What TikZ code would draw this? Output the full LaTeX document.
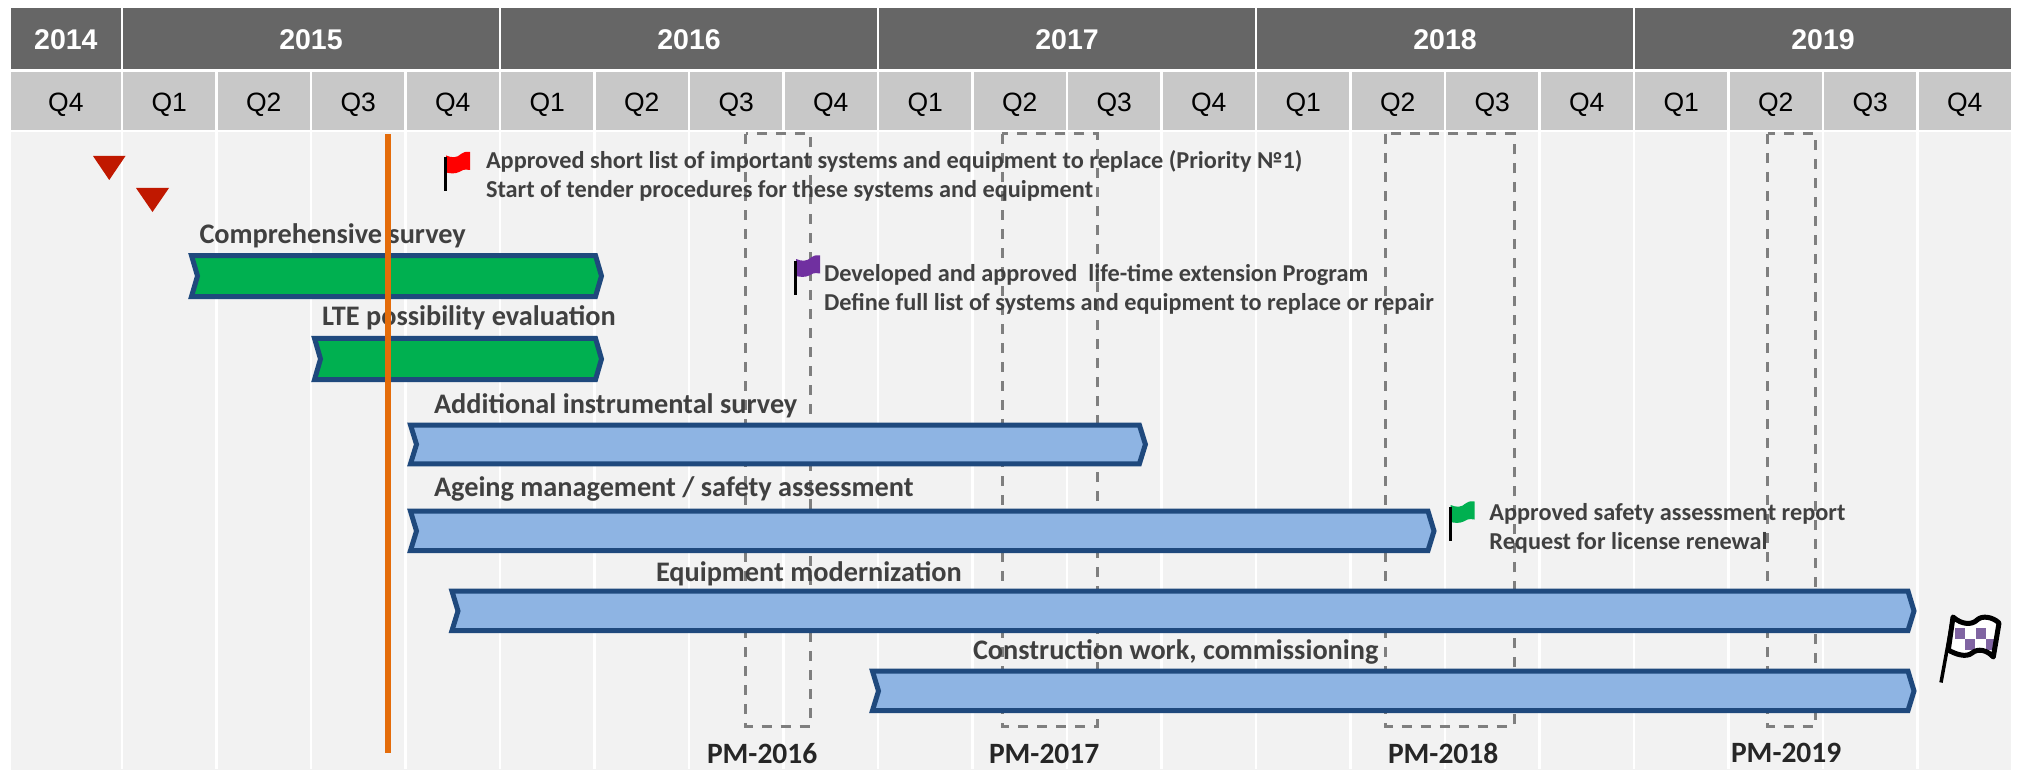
\documentclass[tikz,border=0pt]{standalone}
\usepackage{fontspec}
\setmainfont{Liberation Sans}
\newfontfamily\calfont{Carlito}
\definecolor{yeargray}{HTML}{666666}
\definecolor{quartergray}{HTML}{C8C8C8}
\definecolor{bodygray}{HTML}{F2F2F2}
\definecolor{dashgray}{HTML}{7F7F7F}
\definecolor{bartext}{HTML}{404040}
\definecolor{barline}{HTML}{1F497D}
\definecolor{barblue}{HTML}{8EB4E3}
\definecolor{bargreen}{HTML}{00B050}
\definecolor{nowline}{HTML}{E46C0A}
\definecolor{warnred}{HTML}{C01800}
\definecolor{flagpurple}{HTML}{7030A0}
\definecolor{checkpurple}{HTML}{8064A2}
\newcommand{\mileflag}[3]{% x, y of the pole top, flag colour
  \fill[#3] (#1+2,#2-1.5) .. controls (#1+8,#2+1) and (#1+13,#2+1) .. (#1+17,#2-3)
    .. controls (#1+19,#2-5) and (#1+22,#2-5.5) .. (#1+26,#2-5) -- (#1+26,#2+13)
    .. controls (#1+20,#2+12) and (#1+18,#2+13) .. (#1+15,#2+15)
    .. controls (#1+11,#2+17) and (#1+6,#2+16.5) .. (#1+2,#2+15.5) -- cycle;
  \fill[black] (#1,#2) rectangle (#1+3.4,#2+34.5);
}

\begin{document}
\begin{tikzpicture}[x = 1pt, y = -1pt, % one unit is one pixel, y runs down
                node distance = 94.5pt, % width of a quarter
                outer sep = 0pt
            ]

            \tikzstyle{yearbox}=[draw = white, line width = 2.5pt, fill = yeargray,
            text = white, minimum height = 63.75pt, inner sep = 0pt, text height = 22pt, text depth = 0pt,
            font = \fontsize{28.5}{32}\selectfont\bfseries]
            \tikzstyle{quarter}=[draw = white, line width = 2.5pt, fill = quartergray,
            text = black, minimum width = 94.5pt, minimum height = 60.5pt, inner sep = 0pt,
            text height = 22pt, text depth = 0pt,
            font = \fontsize{26.5}{30}\selectfont]
            \tikzstyle{gridline}=[draw = white, line width = 2.5pt]
            \tikzstyle{pmbox}=[draw = dashgray, line width = 3pt, dash pattern = on 10pt off 9pt]
            \tikzstyle{barlabel}=[anchor = base west, inner sep = 0pt, text = bartext,
            font = \fontsize{28.3}{30}\calfont\bfseries]
            \tikzstyle{flagtext}=[anchor = base west, inner sep = 0pt, text = bartext,
            font = \fontsize{24.3}{28}\calfont\bfseries]
            \tikzstyle{pmlabel}=[anchor = base west, inner sep = 0pt, text = black!85,
            font = \fontsize{29.5}{32}\calfont\bfseries]
            \tikzstyle{barshape}=[draw = barline, line width = 5pt, miter limit = 10]

            \useasboundingbox (0,0) rectangle (2020,770);

            % background and time axis
            \node (body) [fill = bodygray, minimum width = 1999.75pt, minimum height = 638pt] at (1010.9,451) {};

            \node (y14) [yearbox, minimum width = 112.25pt] at (65.9,38.6) {2014};
            \node (y15) [yearbox, minimum width = 378pt] at (311,38.6) {2015};
            \node (y16) [yearbox, minimum width = 378pt, right of=y15, node distance = 378pt] {2016};
            \node (y17) [yearbox, minimum width = 378pt, right of=y16, node distance = 378pt] {2017};
            \node (y18) [yearbox, minimum width = 378pt, right of=y17, node distance = 378pt] {2018};
            \node (y19) [yearbox, minimum width = 378pt, right of=y18, node distance = 378pt] {2019};

            \node (q14d) [quarter, minimum width = 112.25pt] at (65.9,100.75) {Q4};
            \node (q15a) [quarter] at (169.25,100.75) {Q1}; \node (q15b) [quarter, right of=q15a] {Q2};
            \node (q15c) [quarter, right of=q15b] {Q3}; \node (q15d) [quarter, right of=q15c] {Q4};
            \node (q16a) [quarter, right of=q15d] {Q1}; \node (q16b) [quarter, right of=q16a] {Q2};
            \node (q16c) [quarter, right of=q16b] {Q3}; \node (q16d) [quarter, right of=q16c] {Q4};
            \node (q17a) [quarter, right of=q16d] {Q1}; \node (q17b) [quarter, right of=q17a] {Q2};
            \node (q17c) [quarter, right of=q17b] {Q3}; \node (q17d) [quarter, right of=q17c] {Q4};
            \node (q18a) [quarter, right of=q17d] {Q1}; \node (q18b) [quarter, right of=q18a] {Q2};
            \node (q18c) [quarter, right of=q18b] {Q3}; \node (q18d) [quarter, right of=q18c] {Q4};
            \node (q19a) [quarter, right of=q18d] {Q1}; \node (q19b) [quarter, right of=q19a] {Q2};
            \node (q19c) [quarter, right of=q19b] {Q3}; \node (q19d) [quarter, right of=q19c] {Q4};

            \path[gridline] (q14d.south east) edge +(0,638) (q15a.south east) edge +(0,638)
            (q15b.south east) edge +(0,638) (q15c.south east) edge +(0,638)
            (q15d.south east) edge +(0,638) (q16a.south east) edge +(0,638)
            (q16b.south east) edge +(0,638) (q16c.south east) edge +(0,638)
            (q16d.south east) edge +(0,638) (q17a.south east) edge +(0,638)
            (q17b.south east) edge +(0,638) (q17c.south east) edge +(0,638)
            (q17d.south east) edge +(0,638) (q18a.south east) edge +(0,638)
            (q18b.south east) edge +(0,638) (q18c.south east) edge +(0,638)
            (q18d.south east) edge +(0,638) (q19a.south east) edge +(0,638)
            (q19b.south east) edge +(0,638) (q19c.south east) edge +(0,638);

            % planned maintenance windows
            \draw[pmbox] (745.5,134) rectangle (810,726);
            \draw[pmbox] (1002,134) rectangle (1097,726);
            \draw[pmbox] (1385.7,134) rectangle (1514,726);
            \draw[pmbox] (1767.7,134) rectangle (1815.6,726);

            \node (pm16) [pmlabel] at (707,763) {PM-2016};
            \node (pm17) [pmlabel] at (989,763) {PM-2017};
            \node (pm18) [pmlabel] at (1388,763) {PM-2018};
            \node (pm19) [pmlabel] at (1731,762) {PM-2019};

            % start markers
            \fill[warnred] (93,156) -- (125.5,156) -- (109.25,180) -- cycle;
            \fill[warnred] (136,188) -- (169,188) -- (152.5,212) -- cycle;

            % work packages
            \node (comp) [barlabel] at (199.5,243) {Comprehensive survey};
            \draw[barshape, fill = bargreen] (191.5,255.5) -- (595.5,255.5) -- (601.5,276)
            -- (595.5,296.5) -- (191.5,296.5) -- (197.5,276) -- cycle;

            \node (lte) [barlabel] at (322,325) {LTE possibility evaluation};
            \draw[barshape, fill = bargreen] (314.5,338.3) -- (595.5,338.3) -- (601.5,359)
            -- (595.5,379.7) -- (314.5,379.7) -- (320.5,359) -- cycle;

            \node (addit) [barlabel] at (434,413) {Additional instrumental survey};
            \draw[barshape, fill = barblue] (410.5,425) -- (1139.4,425) -- (1145.4,444.4)
            -- (1139.4,463.8) -- (410.5,463.8) -- (416.5,444.4) -- cycle;

            \node (ageing) [barlabel] at (434,496) {Ageing management / safety assessment};
            \draw[barshape, fill = barblue] (410.5,511.2) -- (1428,511.2) -- (1434,531)
            -- (1428,550.5) -- (410.5,550.5) -- (416.5,531) -- cycle;

            \node (equip) [barlabel] at (656,581) {Equipment modernization};
            \draw[barshape, fill = barblue] (452,591.2) -- (1908,591.2) -- (1914,611)
            -- (1908,630.5) -- (452,630.5) -- (458,611) -- cycle;

            \node (constr) [barlabel] at (973,659) {Construction work, commissioning};
            \draw[barshape, fill = barblue] (872.5,671.2) -- (1908,671.2) -- (1914,691)
            -- (1908,710.5) -- (872.5,710.5) -- (878.5,691) -- cycle;

            % milestones
            \mileflag{444}{157}{red}
            \node (listA) [flagtext] at (486,168.5) {Approved short list of important systems and equipment to replace (Priority №1)};
            \node (listB) [flagtext] at (486,197) {Start of tender procedures for these systems and equipment};

            \mileflag{794}{260.5}{flagpurple}
            \node (progA) [flagtext] at (824,281) {Developed and approved\ \ life-time extension Program};
            \node (progB) [flagtext] at (824,310) {Define full list of systems and equipment to replace or repair};

            \mileflag{1448.5}{506.5}{bargreen}
            \node (safeA) [flagtext] at (1489.4,520.5) {Approved safety assessment report};
            \node (safeB) [flagtext] at (1489.4,549) {Request for license renewal};

            % finish flag
            \begin{scope}
              \clip (1953,617) .. controls (1962,625) and (1972,625) .. (1977,620)
              .. controls (1982,615) and (1993,617) .. (1999,623) -- (1993.3,657)
              .. controls (1987,650) and (1978,648) .. (1972,653)
              .. controls (1966,658) and (1955,654) .. (1948.3,650) -- cycle;
              \fill[white] (1945,610) rectangle (2002,660);
              \fill[checkpurple] (1955,628) rectangle (1964.5,638.5);
              \fill[checkpurple] (1976,628) rectangle (1986,638.5);
              \fill[checkpurple] (1965,638.5) rectangle (1975,649.5);
              \fill[checkpurple] (1986,638.5) rectangle (1996,649.5);
            \end{scope}
            \draw[black, line width = 5pt, line join = round] (1953,617) .. controls (1962,625) and (1972,625) .. (1977,620)
            .. controls (1982,615) and (1993,617) .. (1999,623) -- (1993.3,657)
            .. controls (1987,650) and (1978,648) .. (1972,653)
            .. controls (1966,658) and (1955,654) .. (1948.3,650) -- cycle;
            \draw[black, line width = 3.5pt] (1953,617) -- (1941,682.5);

            % status date
            \fill[nowline] (385,134) rectangle (391,752.7);
        \end{tikzpicture}
\end{document}
